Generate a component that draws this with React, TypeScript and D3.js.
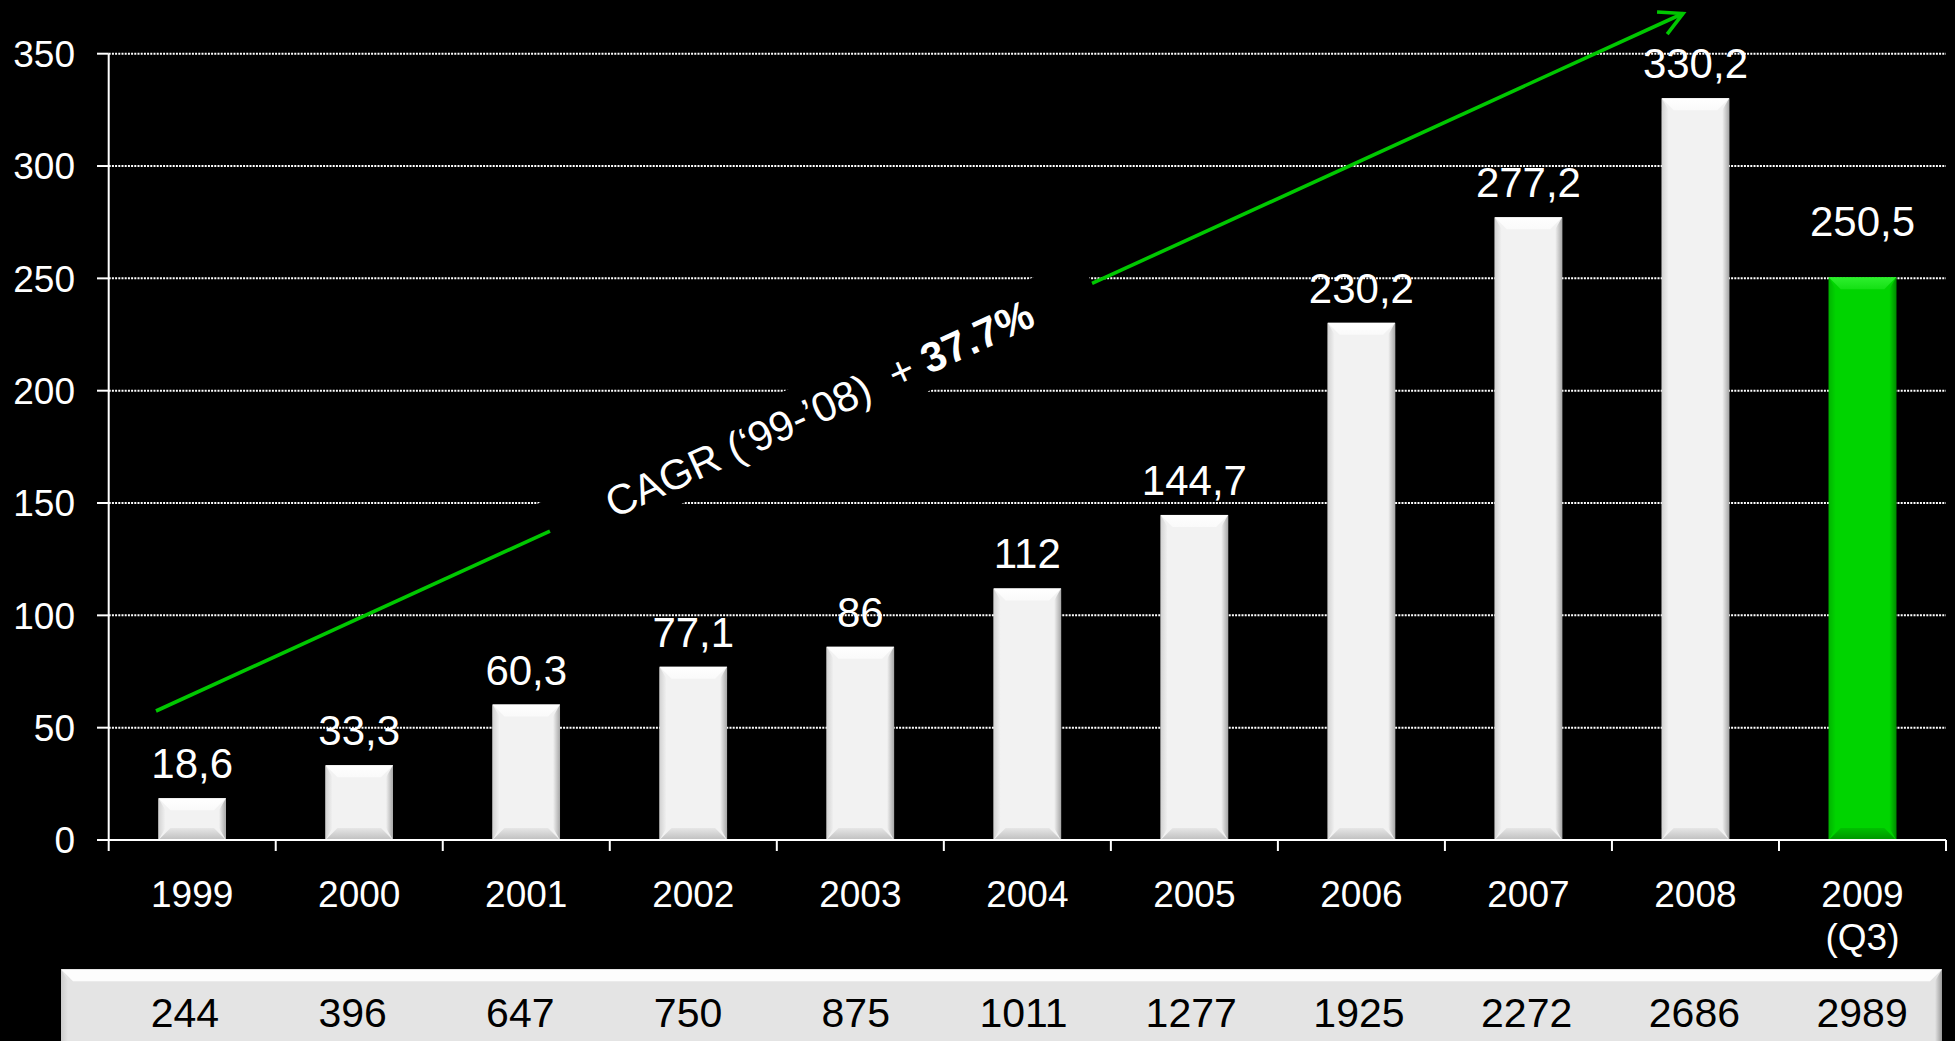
import React from "react";
import * as d3 from "d3";

// ---------- data ----------
const categories = ["1999", "2000", "2001", "2002", "2003", "2004", "2005", "2006", "2007", "2008", "2009"];
const categoryLabels = ["1999", "2000", "2001", "2002", "2003", "2004", "2005", "2006", "2007", "2008", "2009\n(Q3)"];
const values = [18.6, 33.3, 60.3, 77.1, 86, 112, 144.7, 230.2, 277.2, 330.2, 250.5];
const tableValues = [244, 396, 647, 750, 875, 1011, 1277, 1925, 2272, 2686, 2989];
const yTicks = [0, 50, 100, 150, 200, 250, 300, 350];
const highlightCategory = "2009";
const cagrLabel = "CAGR (\u201899-\u201908)\u00a0\u00a0+\u00a0";
const cagrValue = "37.7%";

// ---------- layout ----------
const W = 1955;
const H = 1041;
const X0 = 108.7;
const X1 = 1946;
const Y0 = 840;
const Y1 = 53.7;
const FONT = "'Liberation Sans', Arial, Helvetica, sans-serif";

const x = d3.scaleBand<string>().domain(categories).range([X0, X1]).paddingInner(0.596).paddingOuter(0.298);
const xTable = d3.scaleBand<string>().domain(categories).range([101, X1]);
const y = d3.scaleLinear().domain([0, 350]).range([Y0, Y1]);

type BevelColors = { face: string; top: string; bottom: string; left: string; right: string };

function Bevel({ x0, y0, w, h, bt, bs, c }: { x0: number; y0: number; w: number; h: number; bt: number; bs: number; c: BevelColors }) {
  const p = (pts: number[][]) => pts.map((q) => q.join(",")).join(" ");
  const b = Math.min(bt, h / 2);
  return (
    <g>
      <rect x={x0} y={y0} width={w} height={h} fill={c.face} />
      <polygon points={p([[x0, y0], [x0 + bs, y0 + b], [x0 + bs, y0 + h - b], [x0, y0 + h]])} fill={c.left} />
      <polygon points={p([[x0 + w, y0], [x0 + w - bs, y0 + b], [x0 + w - bs, y0 + h - b], [x0 + w, y0 + h]])} fill={c.right} />
      <polygon points={p([[x0, y0], [x0 + w, y0], [x0 + w - bt, y0 + b], [x0 + bt, y0 + b]])} fill={c.top} />
      <polygon points={p([[x0, y0 + h], [x0 + w, y0 + h], [x0 + w - bt, y0 + h - b], [x0 + bt, y0 + h - b]])} fill={c.bottom} />
    </g>
  );
}

const whiteBar: BevelColors = {
  face: "#f2f2f2",
  top: "url(#wTop)",
  bottom: "url(#wBottom)",
  left: "url(#wLeft)",
  right: "url(#wRight)",
};
const greenBar: BevelColors = {
  face: "#00d400",
  top: "url(#gTop)",
  bottom: "url(#gBottom)",
  left: "url(#gLeft)",
  right: "url(#gRight)",
};
const tableBox: BevelColors = {
  face: "#e4e4e4",
  top: "#fdfdfd",
  bottom: "#bdbdbd",
  left: "url(#tLeft)",
  right: "url(#tRight)",
};

// arrow geometry
const A_START: [number, number] = [156, 711];
const A_TIP: [number, number] = [1683, 13.5];
const GAP_FROM = 0.258; // fraction of arrow length where text box starts
const GAP_TO = 0.613;

export default function App() {
  const dx = A_TIP[0] - A_START[0];
  const dy = A_TIP[1] - A_START[1];
  const len = Math.hypot(dx, dy);
  const ux = dx / len;
  const uy = dy / len;
  const angle = (Math.atan2(dy, dx) * 180) / Math.PI;
  const P1: [number, number] = [A_START[0] + dx * GAP_FROM, A_START[1] + dy * GAP_FROM];
  const P2: [number, number] = [A_START[0] + dx * GAP_TO, A_START[1] + dy * GAP_TO];
  const boxLen = Math.hypot(P2[0] - P1[0], P2[1] - P1[1]);
  const mid: [number, number] = [(P1[0] + P2[0]) / 2, (P1[1] + P2[1]) / 2];
  const headLen = 26;
  const headAng = (28 * Math.PI) / 180;
  const back = Math.atan2(-uy, -ux);
  const h1 = [A_TIP[0] + headLen * Math.cos(back + headAng), A_TIP[1] + headLen * Math.sin(back + headAng)];
  const h2 = [A_TIP[0] + headLen * Math.cos(back - headAng), A_TIP[1] + headLen * Math.sin(back - headAng)];
  const step = x.step();
  const boundaries = d3.range(categories.length + 1).map((i) => X0 + i * step);
  const green = "#00c800";

  return (
    <svg width={W} height={H} style={{ position: "absolute", left: 0, top: 0, display: "block" }} fontFamily={FONT}>
      <defs>
        <linearGradient id="wTop" x1="0" y1="0" x2="0" y2="1">
          <stop offset="0" stopColor="#ffffff" />
          <stop offset="1" stopColor="#fafafa" />
        </linearGradient>
        <linearGradient id="wBottom" x1="0" y1="0" x2="0" y2="1">
          <stop offset="0" stopColor="#e6e6e6" />
          <stop offset="1" stopColor="#bfbfbf" />
        </linearGradient>
        <linearGradient id="wLeft" x1="0" y1="0" x2="1" y2="0">
          <stop offset="0" stopColor="#d2d2d2" />
          <stop offset="1" stopColor="#f2f2f2" />
        </linearGradient>
        <linearGradient id="wRight" x1="0" y1="0" x2="1" y2="0">
          <stop offset="0" stopColor="#f2f2f2" />
          <stop offset="1" stopColor="#a6a6a6" />
        </linearGradient>
        <linearGradient id="gTop" x1="0" y1="0" x2="0" y2="1">
          <stop offset="0" stopColor="#2ef02e" />
          <stop offset="1" stopColor="#14e014" />
        </linearGradient>
        <linearGradient id="gBottom" x1="0" y1="0" x2="0" y2="1">
          <stop offset="0" stopColor="#00c000" />
          <stop offset="1" stopColor="#009400" />
        </linearGradient>
        <linearGradient id="gLeft" x1="0" y1="0" x2="1" y2="0">
          <stop offset="0" stopColor="#00b400" />
          <stop offset="1" stopColor="#00d400" />
        </linearGradient>
        <linearGradient id="gRight" x1="0" y1="0" x2="1" y2="0">
          <stop offset="0" stopColor="#00d400" />
          <stop offset="1" stopColor="#008c00" />
        </linearGradient>
        <linearGradient id="tLeft" x1="0" y1="0" x2="1" y2="0">
          <stop offset="0" stopColor="#cccccc" />
          <stop offset="1" stopColor="#e4e4e4" />
        </linearGradient>
        <linearGradient id="tRight" x1="0" y1="0" x2="1" y2="0">
          <stop offset="0" stopColor="#e4e4e4" />
          <stop offset="1" stopColor="#999999" />
        </linearGradient>
      </defs>
      <rect x={0} y={0} width={W} height={H} fill="#000" />

      {/* gridlines */}
      {yTicks.filter((t) => t > 0).map((t) => (
        <line key={"g" + t} x1={X0} x2={X1} y1={y(t)} y2={y(t)} stroke="#fff" strokeWidth={2} strokeDasharray="2 1.2" />
      ))}

      {/* bars */}
      {categories.map((c, i) => {
        const top = y(values[i]);
        return (
          <Bevel
            key={"b" + c}
            x0={x(c)!}
            y0={top}
            w={x.bandwidth()}
            h={Y0 - top}
            bt={12}
            bs={7}
            c={c === highlightCategory ? greenBar : whiteBar}
          />
        );
      })}

      {/* axes */}
      <line x1={X0} x2={X0} y1={Y1} y2={Y0} stroke="#fff" strokeWidth={2} />
      {yTicks.map((t) => (
        <g key={"yt" + t}>
          <line x1={97} x2={X0} y1={y(t)} y2={y(t)} stroke="#fff" strokeWidth={2} />
          <text x={75} y={y(t)} dy="0.36em" textAnchor="end" fill="#fff" fontSize={37}>
            {t}
          </text>
        </g>
      ))}
      <line x1={X0} x2={X1} y1={Y0} y2={Y0} stroke="#fff" strokeWidth={2} />
      {boundaries.map((bx, i) => (
        <line key={"xt" + i} x1={bx} x2={bx} y1={Y0} y2={Y0 + 11} stroke="#fff" strokeWidth={2} />
      ))}
      {categories.map((c, i) => (
        <text key={"xl" + c} x={x(c)! + x.bandwidth() / 2} y={906.7} textAnchor="middle" fill="#fff" fontSize={37}>
          {categoryLabels[i].split("\n").map((line, j) => (
            <tspan key={j} x={x(c)! + x.bandwidth() / 2} dy={j === 0 ? 0 : 43}>
              {line}
            </tspan>
          ))}
        </text>
      ))}

      {/* value labels */}
      {categories.map((c, i) => (
        <text
          key={"v" + c}
          x={x(c)! + x.bandwidth() / 2}
          y={y(values[i]) - (c === highlightCategory ? 41 : 20)}
          textAnchor="middle"
          fill="#fff"
          fontSize={42}
        >
          {String(values[i]).replace(".", ",")}
        </text>
      ))}

      {/* CAGR annotation */}
      <g transform={`translate(${mid[0]},${mid[1]}) rotate(${angle})`}>
        <rect x={-boxLen / 2} y={-30} width={boxLen} height={60} fill="#000" />
        <text x={-2} y={0} dy="0.36em" textAnchor="middle" fill="#fff" fontSize={42}>
          {cagrLabel}
          <tspan fontWeight="bold">{cagrValue}</tspan>
        </text>
      </g>
      <line x1={A_START[0]} y1={A_START[1]} x2={P1[0]} y2={P1[1]} stroke={green} strokeWidth={3.6} />
      <line x1={P2[0]} y1={P2[1]} x2={A_TIP[0]} y2={A_TIP[1]} stroke={green} strokeWidth={3.6} />
      <polyline
        points={`${h1[0]},${h1[1]} ${A_TIP[0]},${A_TIP[1]} ${h2[0]},${h2[1]}`}
        fill="none"
        stroke={green}
        strokeWidth={3.6}
        strokeLinejoin="miter"
      />

      {/* bottom table */}
      <Bevel x0={61} y0={969.3} w={1942 - 61} h={100} bt={12} bs={7} c={tableBox} />
      {categories.map((c, i) => (
        <text key={"t" + c} x={xTable(c)! + xTable.bandwidth() / 2} y={1026.7} textAnchor="middle" fill="#000" fontSize={41}>
          {tableValues[i]}
        </text>
      ))}
    </svg>
  );
}
